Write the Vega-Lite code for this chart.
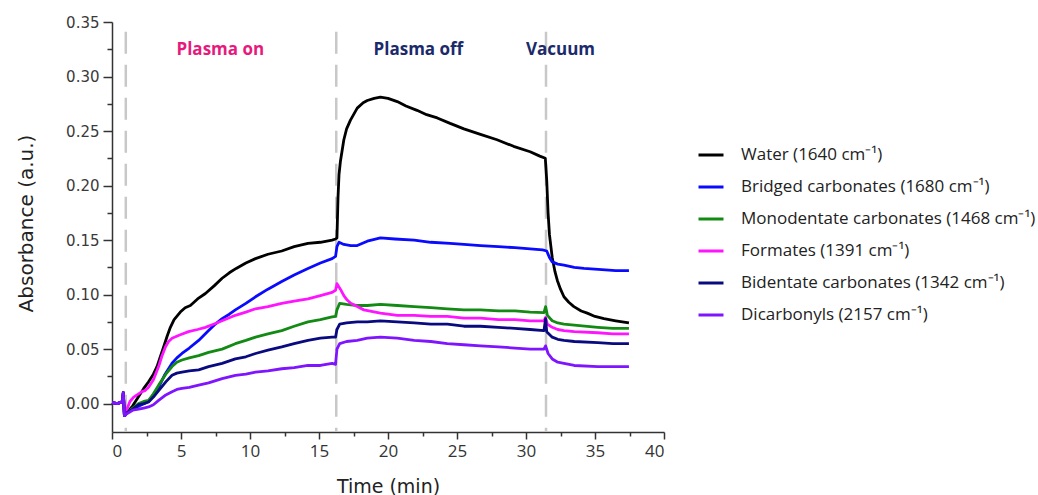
{
  "$schema": "https://vega.github.io/schema/vega-lite/v6.json",
  "width": 552,
  "height": 410,
  "autosize": "none",
  "padding": {"left": 112, "top": 22, "right": 374, "bottom": 63},
  "background": "white",
  "config": {"view": {"stroke": null}, "axis": {"grid": false}},
  "resolve": {"axis": {"x": "independent", "y": "independent"}},
  "layer": [
    {
      "data": {"values": [{"time": 1.0}, {"time": 16.25}, {"time": 31.45}]},
      "mark": {"type": "rule", "color": "#c8c8c8", "strokeWidth": 2.5, "strokeDash": [22, 11]},
      "encoding": {
        "x": {"field": "time", "type": "quantitative", "axis": null, "scale": {"domain": [0, 40], "nice": false}},
        "y": {"datum": 0.341, "type": "quantitative", "axis": null},
        "y2": {"datum": -0.026}
      }
    },
    {
      "data": {"values": [
        {"s":"Water (1640 cm⁻¹)","t":0,"a":0.001},{"s":"Water (1640 cm⁻¹)","t":0.4,"a":0.0},{"s":"Water (1640 cm⁻¹)","t":0.75,"a":0.002},{"s":"Water (1640 cm⁻¹)","t":0.82,"a":0.01},{"s":"Water (1640 cm⁻¹)","t":0.9,"a":-0.011},
        {"s":"Water (1640 cm⁻¹)","t":1.1,"a":-0.008},{"s":"Water (1640 cm⁻¹)","t":1.5,"a":-0.002},{"s":"Water (1640 cm⁻¹)","t":2.0,"a":0.008},{"s":"Water (1640 cm⁻¹)","t":2.3,"a":0.014},{"s":"Water (1640 cm⁻¹)","t":2.65,"a":0.02},
        {"s":"Water (1640 cm⁻¹)","t":3.0,"a":0.027},{"s":"Water (1640 cm⁻¹)","t":3.26,"a":0.034},{"s":"Water (1640 cm⁻¹)","t":3.5,"a":0.043},{"s":"Water (1640 cm⁻¹)","t":3.74,"a":0.052},{"s":"Water (1640 cm⁻¹)","t":4.0,"a":0.062},
        {"s":"Water (1640 cm⁻¹)","t":4.23,"a":0.07},{"s":"Water (1640 cm⁻¹)","t":4.5,"a":0.077},{"s":"Water (1640 cm⁻¹)","t":4.95,"a":0.084},{"s":"Water (1640 cm⁻¹)","t":5.3,"a":0.088},{"s":"Water (1640 cm⁻¹)","t":5.68,"a":0.09},
        {"s":"Water (1640 cm⁻¹)","t":6.2,"a":0.096},{"s":"Water (1640 cm⁻¹)","t":6.77,"a":0.101},{"s":"Water (1640 cm⁻¹)","t":7.4,"a":0.108},{"s":"Water (1640 cm⁻¹)","t":7.98,"a":0.115},{"s":"Water (1640 cm⁻¹)","t":8.5,"a":0.12},
        {"s":"Water (1640 cm⁻¹)","t":9.0,"a":0.124},{"s":"Water (1640 cm⁻¹)","t":9.7,"a":0.129},{"s":"Water (1640 cm⁻¹)","t":10.4,"a":0.133},{"s":"Water (1640 cm⁻¹)","t":11.3,"a":0.137},{"s":"Water (1640 cm⁻¹)","t":12.3,"a":0.14},
        {"s":"Water (1640 cm⁻¹)","t":13.2,"a":0.144},{"s":"Water (1640 cm⁻¹)","t":14.2,"a":0.147},{"s":"Water (1640 cm⁻¹)","t":15.1,"a":0.148},{"s":"Water (1640 cm⁻¹)","t":15.95,"a":0.15},{"s":"Water (1640 cm⁻¹)","t":16.2,"a":0.151},
        {"s":"Water (1640 cm⁻¹)","t":16.3,"a":0.152},{"s":"Water (1640 cm⁻¹)","t":16.38,"a":0.19},{"s":"Water (1640 cm⁻¹)","t":16.45,"a":0.21},{"s":"Water (1640 cm⁻¹)","t":16.55,"a":0.222},{"s":"Water (1640 cm⁻¹)","t":16.8,"a":0.242},
        {"s":"Water (1640 cm⁻¹)","t":17.0,"a":0.252},{"s":"Water (1640 cm⁻¹)","t":17.28,"a":0.26},{"s":"Water (1640 cm⁻¹)","t":17.77,"a":0.271},{"s":"Water (1640 cm⁻¹)","t":18.2,"a":0.276},{"s":"Water (1640 cm⁻¹)","t":18.5,"a":0.278},
        {"s":"Water (1640 cm⁻¹)","t":19.0,"a":0.28},{"s":"Water (1640 cm⁻¹)","t":19.45,"a":0.281},{"s":"Water (1640 cm⁻¹)","t":20.0,"a":0.28},{"s":"Water (1640 cm⁻¹)","t":20.67,"a":0.277},{"s":"Water (1640 cm⁻¹)","t":21.3,"a":0.273},
        {"s":"Water (1640 cm⁻¹)","t":22.1,"a":0.269},{"s":"Water (1640 cm⁻¹)","t":22.8,"a":0.265},{"s":"Water (1640 cm⁻¹)","t":23.57,"a":0.262},{"s":"Water (1640 cm⁻¹)","t":24.5,"a":0.257},{"s":"Water (1640 cm⁻¹)","t":25.5,"a":0.252},
        {"s":"Water (1640 cm⁻¹)","t":26.7,"a":0.247},{"s":"Water (1640 cm⁻¹)","t":27.9,"a":0.242},{"s":"Water (1640 cm⁻¹)","t":29.1,"a":0.236},{"s":"Water (1640 cm⁻¹)","t":30.3,"a":0.231},{"s":"Water (1640 cm⁻¹)","t":31.0,"a":0.227},
        {"s":"Water (1640 cm⁻¹)","t":31.4,"a":0.225},{"s":"Water (1640 cm⁻¹)","t":31.5,"a":0.205},{"s":"Water (1640 cm⁻¹)","t":31.6,"a":0.175},{"s":"Water (1640 cm⁻¹)","t":31.7,"a":0.155},{"s":"Water (1640 cm⁻¹)","t":31.9,"a":0.134},
        {"s":"Water (1640 cm⁻¹)","t":32.1,"a":0.121},{"s":"Water (1640 cm⁻¹)","t":32.27,"a":0.113},{"s":"Water (1640 cm⁻¹)","t":32.5,"a":0.105},{"s":"Water (1640 cm⁻¹)","t":32.75,"a":0.098},{"s":"Water (1640 cm⁻¹)","t":33.1,"a":0.093},
        {"s":"Water (1640 cm⁻¹)","t":33.47,"a":0.089},{"s":"Water (1640 cm⁻¹)","t":34.0,"a":0.085},{"s":"Water (1640 cm⁻¹)","t":34.44,"a":0.083},{"s":"Water (1640 cm⁻¹)","t":35.0,"a":0.08},{"s":"Water (1640 cm⁻¹)","t":35.65,"a":0.078},
        {"s":"Water (1640 cm⁻¹)","t":36.5,"a":0.076},{"s":"Water (1640 cm⁻¹)","t":37.46,"a":0.074},

        {"s":"Bridged carbonates (1680 cm⁻¹)","t":0,"a":0.001},{"s":"Bridged carbonates (1680 cm⁻¹)","t":0.4,"a":0.0},{"s":"Bridged carbonates (1680 cm⁻¹)","t":0.75,"a":0.002},{"s":"Bridged carbonates (1680 cm⁻¹)","t":0.82,"a":0.01},{"s":"Bridged carbonates (1680 cm⁻¹)","t":0.9,"a":-0.011},
        {"s":"Bridged carbonates (1680 cm⁻¹)","t":1.1,"a":-0.008},{"s":"Bridged carbonates (1680 cm⁻¹)","t":1.6,"a":-0.004},{"s":"Bridged carbonates (1680 cm⁻¹)","t":2.0,"a":-0.002},{"s":"Bridged carbonates (1680 cm⁻¹)","t":2.65,"a":0.002},{"s":"Bridged carbonates (1680 cm⁻¹)","t":3.0,"a":0.008},
        {"s":"Bridged carbonates (1680 cm⁻¹)","t":3.38,"a":0.015},{"s":"Bridged carbonates (1680 cm⁻¹)","t":3.8,"a":0.026},{"s":"Bridged carbonates (1680 cm⁻¹)","t":4.35,"a":0.037},{"s":"Bridged carbonates (1680 cm⁻¹)","t":4.7,"a":0.042},{"s":"Bridged carbonates (1680 cm⁻¹)","t":5.07,"a":0.046},
        {"s":"Bridged carbonates (1680 cm⁻¹)","t":5.6,"a":0.051},{"s":"Bridged carbonates (1680 cm⁻¹)","t":6.28,"a":0.058},{"s":"Bridged carbonates (1680 cm⁻¹)","t":7.0,"a":0.067},{"s":"Bridged carbonates (1680 cm⁻¹)","t":7.49,"a":0.073},{"s":"Bridged carbonates (1680 cm⁻¹)","t":7.98,"a":0.078},
        {"s":"Bridged carbonates (1680 cm⁻¹)","t":8.5,"a":0.082},{"s":"Bridged carbonates (1680 cm⁻¹)","t":8.94,"a":0.086},{"s":"Bridged carbonates (1680 cm⁻¹)","t":9.7,"a":0.092},{"s":"Bridged carbonates (1680 cm⁻¹)","t":10.4,"a":0.098},{"s":"Bridged carbonates (1680 cm⁻¹)","t":11.3,"a":0.105},
        {"s":"Bridged carbonates (1680 cm⁻¹)","t":12.3,"a":0.112},{"s":"Bridged carbonates (1680 cm⁻¹)","t":13.2,"a":0.118},{"s":"Bridged carbonates (1680 cm⁻¹)","t":14.2,"a":0.124},{"s":"Bridged carbonates (1680 cm⁻¹)","t":15.1,"a":0.129},{"s":"Bridged carbonates (1680 cm⁻¹)","t":15.95,"a":0.133},
        {"s":"Bridged carbonates (1680 cm⁻¹)","t":16.2,"a":0.135},{"s":"Bridged carbonates (1680 cm⁻¹)","t":16.3,"a":0.144},{"s":"Bridged carbonates (1680 cm⁻¹)","t":16.45,"a":0.148},{"s":"Bridged carbonates (1680 cm⁻¹)","t":16.8,"a":0.146},{"s":"Bridged carbonates (1680 cm⁻¹)","t":17.3,"a":0.145},
        {"s":"Bridged carbonates (1680 cm⁻¹)","t":17.77,"a":0.145},{"s":"Bridged carbonates (1680 cm⁻¹)","t":18.5,"a":0.149},{"s":"Bridged carbonates (1680 cm⁻¹)","t":19.45,"a":0.152},{"s":"Bridged carbonates (1680 cm⁻¹)","t":20.5,"a":0.151},{"s":"Bridged carbonates (1680 cm⁻¹)","t":21.9,"a":0.15},
        {"s":"Bridged carbonates (1680 cm⁻¹)","t":23.1,"a":0.148},{"s":"Bridged carbonates (1680 cm⁻¹)","t":24.5,"a":0.147},{"s":"Bridged carbonates (1680 cm⁻¹)","t":25.5,"a":0.146},{"s":"Bridged carbonates (1680 cm⁻¹)","t":26.7,"a":0.145},{"s":"Bridged carbonates (1680 cm⁻¹)","t":28.0,"a":0.144},
        {"s":"Bridged carbonates (1680 cm⁻¹)","t":29.2,"a":0.143},{"s":"Bridged carbonates (1680 cm⁻¹)","t":30.3,"a":0.142},{"s":"Bridged carbonates (1680 cm⁻¹)","t":31.2,"a":0.141},{"s":"Bridged carbonates (1680 cm⁻¹)","t":31.5,"a":0.14},{"s":"Bridged carbonates (1680 cm⁻¹)","t":31.7,"a":0.134},
        {"s":"Bridged carbonates (1680 cm⁻¹)","t":31.9,"a":0.13},{"s":"Bridged carbonates (1680 cm⁻¹)","t":32.3,"a":0.128},{"s":"Bridged carbonates (1680 cm⁻¹)","t":32.75,"a":0.127},{"s":"Bridged carbonates (1680 cm⁻¹)","t":33.5,"a":0.125},{"s":"Bridged carbonates (1680 cm⁻¹)","t":34.2,"a":0.124},
        {"s":"Bridged carbonates (1680 cm⁻¹)","t":35.5,"a":0.123},{"s":"Bridged carbonates (1680 cm⁻¹)","t":36.5,"a":0.122},{"s":"Bridged carbonates (1680 cm⁻¹)","t":37.46,"a":0.122},

        {"s":"Monodentate carbonates (1468 cm⁻¹)","t":0,"a":0.001},{"s":"Monodentate carbonates (1468 cm⁻¹)","t":0.4,"a":0.0},{"s":"Monodentate carbonates (1468 cm⁻¹)","t":0.75,"a":0.002},{"s":"Monodentate carbonates (1468 cm⁻¹)","t":0.82,"a":0.01},{"s":"Monodentate carbonates (1468 cm⁻¹)","t":0.9,"a":-0.011},
        {"s":"Monodentate carbonates (1468 cm⁻¹)","t":1.1,"a":-0.008},{"s":"Monodentate carbonates (1468 cm⁻¹)","t":1.5,"a":-0.004},{"s":"Monodentate carbonates (1468 cm⁻¹)","t":1.93,"a":0.0},{"s":"Monodentate carbonates (1468 cm⁻¹)","t":2.3,"a":0.002},{"s":"Monodentate carbonates (1468 cm⁻¹)","t":2.65,"a":0.003},
        {"s":"Monodentate carbonates (1468 cm⁻¹)","t":3.0,"a":0.009},{"s":"Monodentate carbonates (1468 cm⁻¹)","t":3.38,"a":0.017},{"s":"Monodentate carbonates (1468 cm⁻¹)","t":3.9,"a":0.027},{"s":"Monodentate carbonates (1468 cm⁻¹)","t":4.35,"a":0.034},{"s":"Monodentate carbonates (1468 cm⁻¹)","t":4.7,"a":0.038},
        {"s":"Monodentate carbonates (1468 cm⁻¹)","t":5.07,"a":0.04},{"s":"Monodentate carbonates (1468 cm⁻¹)","t":5.6,"a":0.042},{"s":"Monodentate carbonates (1468 cm⁻¹)","t":6.28,"a":0.044},{"s":"Monodentate carbonates (1468 cm⁻¹)","t":7.0,"a":0.047},{"s":"Monodentate carbonates (1468 cm⁻¹)","t":7.98,"a":0.05},
        {"s":"Monodentate carbonates (1468 cm⁻¹)","t":8.94,"a":0.055},{"s":"Monodentate carbonates (1468 cm⁻¹)","t":9.7,"a":0.058},{"s":"Monodentate carbonates (1468 cm⁻¹)","t":10.4,"a":0.061},{"s":"Monodentate carbonates (1468 cm⁻¹)","t":11.3,"a":0.064},{"s":"Monodentate carbonates (1468 cm⁻¹)","t":12.3,"a":0.067},
        {"s":"Monodentate carbonates (1468 cm⁻¹)","t":13.2,"a":0.071},{"s":"Monodentate carbonates (1468 cm⁻¹)","t":14.2,"a":0.075},{"s":"Monodentate carbonates (1468 cm⁻¹)","t":15.1,"a":0.077},{"s":"Monodentate carbonates (1468 cm⁻¹)","t":15.95,"a":0.0795},{"s":"Monodentate carbonates (1468 cm⁻¹)","t":16.2,"a":0.08},
        {"s":"Monodentate carbonates (1468 cm⁻¹)","t":16.3,"a":0.086},{"s":"Monodentate carbonates (1468 cm⁻¹)","t":16.5,"a":0.092},{"s":"Monodentate carbonates (1468 cm⁻¹)","t":17.0,"a":0.091},{"s":"Monodentate carbonates (1468 cm⁻¹)","t":17.77,"a":0.09},{"s":"Monodentate carbonates (1468 cm⁻¹)","t":18.5,"a":0.09},
        {"s":"Monodentate carbonates (1468 cm⁻¹)","t":19.45,"a":0.091},{"s":"Monodentate carbonates (1468 cm⁻¹)","t":20.67,"a":0.09},{"s":"Monodentate carbonates (1468 cm⁻¹)","t":21.9,"a":0.089},{"s":"Monodentate carbonates (1468 cm⁻¹)","t":23.1,"a":0.088},{"s":"Monodentate carbonates (1468 cm⁻¹)","t":24.3,"a":0.087},
        {"s":"Monodentate carbonates (1468 cm⁻¹)","t":25.5,"a":0.086},{"s":"Monodentate carbonates (1468 cm⁻¹)","t":26.7,"a":0.086},{"s":"Monodentate carbonates (1468 cm⁻¹)","t":28.0,"a":0.085},{"s":"Monodentate carbonates (1468 cm⁻¹)","t":29.2,"a":0.085},{"s":"Monodentate carbonates (1468 cm⁻¹)","t":30.3,"a":0.084},
        {"s":"Monodentate carbonates (1468 cm⁻¹)","t":31.3,"a":0.0835},{"s":"Monodentate carbonates (1468 cm⁻¹)","t":31.42,"a":0.089},{"s":"Monodentate carbonates (1468 cm⁻¹)","t":31.55,"a":0.081},{"s":"Monodentate carbonates (1468 cm⁻¹)","t":31.9,"a":0.076},{"s":"Monodentate carbonates (1468 cm⁻¹)","t":32.3,"a":0.074},
        {"s":"Monodentate carbonates (1468 cm⁻¹)","t":32.75,"a":0.073},{"s":"Monodentate carbonates (1468 cm⁻¹)","t":33.5,"a":0.072},{"s":"Monodentate carbonates (1468 cm⁻¹)","t":35.2,"a":0.07},{"s":"Monodentate carbonates (1468 cm⁻¹)","t":36.3,"a":0.069},{"s":"Monodentate carbonates (1468 cm⁻¹)","t":37.46,"a":0.069},

        {"s":"Formates (1391 cm⁻¹)","t":0,"a":0.001},{"s":"Formates (1391 cm⁻¹)","t":0.4,"a":0.0},{"s":"Formates (1391 cm⁻¹)","t":0.75,"a":0.002},{"s":"Formates (1391 cm⁻¹)","t":0.82,"a":0.01},{"s":"Formates (1391 cm⁻¹)","t":0.9,"a":-0.011},
        {"s":"Formates (1391 cm⁻¹)","t":1.05,"a":-0.006},{"s":"Formates (1391 cm⁻¹)","t":1.3,"a":0.002},{"s":"Formates (1391 cm⁻¹)","t":1.57,"a":0.006},{"s":"Formates (1391 cm⁻¹)","t":2.17,"a":0.011},{"s":"Formates (1391 cm⁻¹)","t":2.4,"a":0.012},
        {"s":"Formates (1391 cm⁻¹)","t":2.65,"a":0.015},{"s":"Formates (1391 cm⁻¹)","t":3.0,"a":0.022},{"s":"Formates (1391 cm⁻¹)","t":3.38,"a":0.034},{"s":"Formates (1391 cm⁻¹)","t":3.6,"a":0.043},{"s":"Formates (1391 cm⁻¹)","t":3.87,"a":0.052},
        {"s":"Formates (1391 cm⁻¹)","t":4.1,"a":0.057},{"s":"Formates (1391 cm⁻¹)","t":4.35,"a":0.06},{"s":"Formates (1391 cm⁻¹)","t":4.9,"a":0.063},{"s":"Formates (1391 cm⁻¹)","t":5.55,"a":0.066},{"s":"Formates (1391 cm⁻¹)","t":6.2,"a":0.068},
        {"s":"Formates (1391 cm⁻¹)","t":6.77,"a":0.07},{"s":"Formates (1391 cm⁻¹)","t":7.4,"a":0.073},{"s":"Formates (1391 cm⁻¹)","t":7.98,"a":0.076},{"s":"Formates (1391 cm⁻¹)","t":8.94,"a":0.081},{"s":"Formates (1391 cm⁻¹)","t":9.7,"a":0.084},
        {"s":"Formates (1391 cm⁻¹)","t":10.4,"a":0.087},{"s":"Formates (1391 cm⁻¹)","t":11.3,"a":0.089},{"s":"Formates (1391 cm⁻¹)","t":12.3,"a":0.092},{"s":"Formates (1391 cm⁻¹)","t":13.2,"a":0.094},{"s":"Formates (1391 cm⁻¹)","t":14.2,"a":0.096},
        {"s":"Formates (1391 cm⁻¹)","t":15.1,"a":0.099},{"s":"Formates (1391 cm⁻¹)","t":15.95,"a":0.102},{"s":"Formates (1391 cm⁻¹)","t":16.2,"a":0.104},{"s":"Formates (1391 cm⁻¹)","t":16.3,"a":0.11},{"s":"Formates (1391 cm⁻¹)","t":16.55,"a":0.105},
        {"s":"Formates (1391 cm⁻¹)","t":16.8,"a":0.099},{"s":"Formates (1391 cm⁻¹)","t":17.04,"a":0.095},{"s":"Formates (1391 cm⁻¹)","t":17.3,"a":0.092},{"s":"Formates (1391 cm⁻¹)","t":17.77,"a":0.089},{"s":"Formates (1391 cm⁻¹)","t":18.25,"a":0.086},
        {"s":"Formates (1391 cm⁻¹)","t":19.45,"a":0.083},{"s":"Formates (1391 cm⁻¹)","t":20.67,"a":0.081},{"s":"Formates (1391 cm⁻¹)","t":21.9,"a":0.081},{"s":"Formates (1391 cm⁻¹)","t":23.1,"a":0.08},{"s":"Formates (1391 cm⁻¹)","t":24.3,"a":0.08},
        {"s":"Formates (1391 cm⁻¹)","t":25.5,"a":0.0785},{"s":"Formates (1391 cm⁻¹)","t":26.7,"a":0.0785},{"s":"Formates (1391 cm⁻¹)","t":28.0,"a":0.077},{"s":"Formates (1391 cm⁻¹)","t":29.2,"a":0.077},{"s":"Formates (1391 cm⁻¹)","t":30.3,"a":0.076},
        {"s":"Formates (1391 cm⁻¹)","t":31.3,"a":0.076},{"s":"Formates (1391 cm⁻¹)","t":31.42,"a":0.079},{"s":"Formates (1391 cm⁻¹)","t":31.55,"a":0.073},{"s":"Formates (1391 cm⁻¹)","t":31.9,"a":0.07},{"s":"Formates (1391 cm⁻¹)","t":32.3,"a":0.068},
        {"s":"Formates (1391 cm⁻¹)","t":32.75,"a":0.067},{"s":"Formates (1391 cm⁻¹)","t":33.5,"a":0.066},{"s":"Formates (1391 cm⁻¹)","t":35.2,"a":0.065},{"s":"Formates (1391 cm⁻¹)","t":36.3,"a":0.064},{"s":"Formates (1391 cm⁻¹)","t":37.46,"a":0.064},

        {"s":"Bidentate carbonates (1342 cm⁻¹)","t":0,"a":0.001},{"s":"Bidentate carbonates (1342 cm⁻¹)","t":0.4,"a":0.0},{"s":"Bidentate carbonates (1342 cm⁻¹)","t":0.75,"a":0.002},{"s":"Bidentate carbonates (1342 cm⁻¹)","t":0.82,"a":0.01},{"s":"Bidentate carbonates (1342 cm⁻¹)","t":0.9,"a":-0.011},
        {"s":"Bidentate carbonates (1342 cm⁻¹)","t":1.1,"a":-0.008},{"s":"Bidentate carbonates (1342 cm⁻¹)","t":1.5,"a":-0.005},{"s":"Bidentate carbonates (1342 cm⁻¹)","t":1.93,"a":-0.001},{"s":"Bidentate carbonates (1342 cm⁻¹)","t":2.3,"a":0.0},{"s":"Bidentate carbonates (1342 cm⁻¹)","t":2.65,"a":0.0015},
        {"s":"Bidentate carbonates (1342 cm⁻¹)","t":3.0,"a":0.006},{"s":"Bidentate carbonates (1342 cm⁻¹)","t":3.38,"a":0.012},{"s":"Bidentate carbonates (1342 cm⁻¹)","t":3.9,"a":0.02},{"s":"Bidentate carbonates (1342 cm⁻¹)","t":4.35,"a":0.026},{"s":"Bidentate carbonates (1342 cm⁻¹)","t":4.7,"a":0.028},
        {"s":"Bidentate carbonates (1342 cm⁻¹)","t":5.07,"a":0.029},{"s":"Bidentate carbonates (1342 cm⁻¹)","t":5.6,"a":0.03},{"s":"Bidentate carbonates (1342 cm⁻¹)","t":6.28,"a":0.031},{"s":"Bidentate carbonates (1342 cm⁻¹)","t":7.0,"a":0.034},{"s":"Bidentate carbonates (1342 cm⁻¹)","t":7.98,"a":0.037},
        {"s":"Bidentate carbonates (1342 cm⁻¹)","t":8.94,"a":0.041},{"s":"Bidentate carbonates (1342 cm⁻¹)","t":9.7,"a":0.043},{"s":"Bidentate carbonates (1342 cm⁻¹)","t":10.4,"a":0.046},{"s":"Bidentate carbonates (1342 cm⁻¹)","t":11.3,"a":0.049},{"s":"Bidentate carbonates (1342 cm⁻¹)","t":12.3,"a":0.052},
        {"s":"Bidentate carbonates (1342 cm⁻¹)","t":13.2,"a":0.055},{"s":"Bidentate carbonates (1342 cm⁻¹)","t":14.2,"a":0.058},{"s":"Bidentate carbonates (1342 cm⁻¹)","t":15.1,"a":0.06},{"s":"Bidentate carbonates (1342 cm⁻¹)","t":15.95,"a":0.061},{"s":"Bidentate carbonates (1342 cm⁻¹)","t":16.2,"a":0.061},
        {"s":"Bidentate carbonates (1342 cm⁻¹)","t":16.3,"a":0.068},{"s":"Bidentate carbonates (1342 cm⁻¹)","t":16.5,"a":0.073},{"s":"Bidentate carbonates (1342 cm⁻¹)","t":17.0,"a":0.074},{"s":"Bidentate carbonates (1342 cm⁻¹)","t":17.77,"a":0.075},{"s":"Bidentate carbonates (1342 cm⁻¹)","t":18.5,"a":0.075},
        {"s":"Bidentate carbonates (1342 cm⁻¹)","t":19.45,"a":0.076},{"s":"Bidentate carbonates (1342 cm⁻¹)","t":20.67,"a":0.075},{"s":"Bidentate carbonates (1342 cm⁻¹)","t":21.9,"a":0.074},{"s":"Bidentate carbonates (1342 cm⁻¹)","t":23.1,"a":0.073},{"s":"Bidentate carbonates (1342 cm⁻¹)","t":24.3,"a":0.073},
        {"s":"Bidentate carbonates (1342 cm⁻¹)","t":25.5,"a":0.071},{"s":"Bidentate carbonates (1342 cm⁻¹)","t":26.7,"a":0.071},{"s":"Bidentate carbonates (1342 cm⁻¹)","t":28.0,"a":0.07},{"s":"Bidentate carbonates (1342 cm⁻¹)","t":29.2,"a":0.069},{"s":"Bidentate carbonates (1342 cm⁻¹)","t":30.3,"a":0.068},
        {"s":"Bidentate carbonates (1342 cm⁻¹)","t":31.3,"a":0.067},{"s":"Bidentate carbonates (1342 cm⁻¹)","t":31.42,"a":0.078},{"s":"Bidentate carbonates (1342 cm⁻¹)","t":31.5,"a":0.066},{"s":"Bidentate carbonates (1342 cm⁻¹)","t":31.9,"a":0.061},{"s":"Bidentate carbonates (1342 cm⁻¹)","t":32.3,"a":0.059},
        {"s":"Bidentate carbonates (1342 cm⁻¹)","t":32.75,"a":0.058},{"s":"Bidentate carbonates (1342 cm⁻¹)","t":33.5,"a":0.057},{"s":"Bidentate carbonates (1342 cm⁻¹)","t":35.2,"a":0.056},{"s":"Bidentate carbonates (1342 cm⁻¹)","t":36.3,"a":0.055},{"s":"Bidentate carbonates (1342 cm⁻¹)","t":37.46,"a":0.055},

        {"s":"Dicarbonyls (2157 cm⁻¹)","t":0,"a":0.001},{"s":"Dicarbonyls (2157 cm⁻¹)","t":0.4,"a":0.0},{"s":"Dicarbonyls (2157 cm⁻¹)","t":0.75,"a":0.002},{"s":"Dicarbonyls (2157 cm⁻¹)","t":0.82,"a":0.01},{"s":"Dicarbonyls (2157 cm⁻¹)","t":0.9,"a":-0.011},
        {"s":"Dicarbonyls (2157 cm⁻¹)","t":1.1,"a":-0.009},{"s":"Dicarbonyls (2157 cm⁻¹)","t":1.5,"a":-0.006},{"s":"Dicarbonyls (2157 cm⁻¹)","t":1.93,"a":-0.005},{"s":"Dicarbonyls (2157 cm⁻¹)","t":2.3,"a":-0.004},{"s":"Dicarbonyls (2157 cm⁻¹)","t":2.65,"a":-0.003},
        {"s":"Dicarbonyls (2157 cm⁻¹)","t":3.0,"a":-0.001},{"s":"Dicarbonyls (2157 cm⁻¹)","t":3.38,"a":0.003},{"s":"Dicarbonyls (2157 cm⁻¹)","t":3.9,"a":0.008},{"s":"Dicarbonyls (2157 cm⁻¹)","t":4.35,"a":0.011},{"s":"Dicarbonyls (2157 cm⁻¹)","t":4.7,"a":0.013},
        {"s":"Dicarbonyls (2157 cm⁻¹)","t":5.07,"a":0.014},{"s":"Dicarbonyls (2157 cm⁻¹)","t":5.6,"a":0.015},{"s":"Dicarbonyls (2157 cm⁻¹)","t":6.28,"a":0.017},{"s":"Dicarbonyls (2157 cm⁻¹)","t":7.0,"a":0.019},{"s":"Dicarbonyls (2157 cm⁻¹)","t":7.98,"a":0.023},
        {"s":"Dicarbonyls (2157 cm⁻¹)","t":8.94,"a":0.026},{"s":"Dicarbonyls (2157 cm⁻¹)","t":9.7,"a":0.027},{"s":"Dicarbonyls (2157 cm⁻¹)","t":10.4,"a":0.029},{"s":"Dicarbonyls (2157 cm⁻¹)","t":11.3,"a":0.03},{"s":"Dicarbonyls (2157 cm⁻¹)","t":12.3,"a":0.032},
        {"s":"Dicarbonyls (2157 cm⁻¹)","t":13.2,"a":0.033},{"s":"Dicarbonyls (2157 cm⁻¹)","t":14.2,"a":0.035},{"s":"Dicarbonyls (2157 cm⁻¹)","t":15.1,"a":0.035},{"s":"Dicarbonyls (2157 cm⁻¹)","t":15.95,"a":0.037},{"s":"Dicarbonyls (2157 cm⁻¹)","t":16.2,"a":0.036},
        {"s":"Dicarbonyls (2157 cm⁻¹)","t":16.3,"a":0.05},{"s":"Dicarbonyls (2157 cm⁻¹)","t":16.5,"a":0.055},{"s":"Dicarbonyls (2157 cm⁻¹)","t":17.0,"a":0.057},{"s":"Dicarbonyls (2157 cm⁻¹)","t":17.77,"a":0.058},{"s":"Dicarbonyls (2157 cm⁻¹)","t":18.5,"a":0.06},
        {"s":"Dicarbonyls (2157 cm⁻¹)","t":19.45,"a":0.061},{"s":"Dicarbonyls (2157 cm⁻¹)","t":20.67,"a":0.06},{"s":"Dicarbonyls (2157 cm⁻¹)","t":21.9,"a":0.058},{"s":"Dicarbonyls (2157 cm⁻¹)","t":23.1,"a":0.057},{"s":"Dicarbonyls (2157 cm⁻¹)","t":24.3,"a":0.055},
        {"s":"Dicarbonyls (2157 cm⁻¹)","t":25.5,"a":0.054},{"s":"Dicarbonyls (2157 cm⁻¹)","t":26.7,"a":0.053},{"s":"Dicarbonyls (2157 cm⁻¹)","t":28.0,"a":0.052},{"s":"Dicarbonyls (2157 cm⁻¹)","t":29.2,"a":0.051},{"s":"Dicarbonyls (2157 cm⁻¹)","t":30.3,"a":0.05},
        {"s":"Dicarbonyls (2157 cm⁻¹)","t":31.3,"a":0.05},{"s":"Dicarbonyls (2157 cm⁻¹)","t":31.42,"a":0.053},{"s":"Dicarbonyls (2157 cm⁻¹)","t":31.6,"a":0.046},{"s":"Dicarbonyls (2157 cm⁻¹)","t":31.9,"a":0.041},{"s":"Dicarbonyls (2157 cm⁻¹)","t":32.3,"a":0.038},
        {"s":"Dicarbonyls (2157 cm⁻¹)","t":32.75,"a":0.037},{"s":"Dicarbonyls (2157 cm⁻¹)","t":33.5,"a":0.035},{"s":"Dicarbonyls (2157 cm⁻¹)","t":35.2,"a":0.034},{"s":"Dicarbonyls (2157 cm⁻¹)","t":36.3,"a":0.034},{"s":"Dicarbonyls (2157 cm⁻¹)","t":37.46,"a":0.034}
      ]},
      "mark": {"type": "line", "strokeWidth": 2.8, "strokeJoin": "round"},
      "encoding": {
        "x": {
          "field": "t", "type": "quantitative", "title": "Time (min)",
          "scale": {"domain": [0, 40], "nice": false},
          "axis": {
            "orient": "bottom", "values": [0, 5, 10, 15, 20, 25, 30, 35, 40], "format": "d",
            "labelFont": "Open Sans", "labelFontSize": 17, "labelColor": "#333333", "labelPadding": 4,
            "tickSize": 7, "tickWidth": 1.5, "tickColor": "#333333", "domainColor": "#333333", "domainWidth": 1.5,
            "titleFont": "DejaVu Sans", "titleFontSize": 19, "titleFontWeight": "normal", "titleColor": "#222222",
            "titleX": 276, "titleY": 60, "titleBaseline": "alphabetic", "titleAlign": "center"
          }
        },
        "y": {
          "field": "a", "type": "quantitative", "title": "Absorbance (a.u.)",
          "scale": {"domain": [-0.026, 0.35], "nice": false, "zero": false},
          "axis": {
            "orient": "left", "values": [0, 0.05, 0.1, 0.15, 0.2, 0.25, 0.3, 0.35], "format": ".2f",
            "labelFont": "DejaVu Sans", "labelFontSize": 15, "labelColor": "#3a3a3a", "labelPadding": 4,
            "tickSize": 9, "tickWidth": 1.5, "tickColor": "#333333", "domainColor": "#333333", "domainWidth": 1.5,
            "titleFont": "DejaVu Sans", "titleFontSize": 20, "titleFontWeight": "normal", "titleColor": "#222222",
            "titleAngle": 270, "titleX": -80, "titleY": 201, "titleBaseline": "alphabetic", "titleAlign": "center"
          }
        },
        "color": {
          "field": "s", "type": "nominal",
          "scale": {
            "domain": ["Water (1640 cm⁻¹)", "Bridged carbonates (1680 cm⁻¹)", "Monodentate carbonates (1468 cm⁻¹)", "Formates (1391 cm⁻¹)", "Bidentate carbonates (1342 cm⁻¹)", "Dicarbonyls (2157 cm⁻¹)"],
            "range": ["#000000", "#0a0aff", "#138a13", "#ff14ff", "#0a0a80", "#7f14ff"]
          },
          "sort": null,
          "legend": {
            "title": null, "orient": "none", "legendX": 585, "legendY": 119, "padding": 0,
            "symbolType": "stroke", "symbolSize": 625, "symbolStrokeWidth": 3,
            "labelFont": "Open Sans", "labelFontSize": 17, "labelColor": "#222222", "labelOffset": 16,
            "rowPadding": 10, "labelLimit": 400
          }
        },
        "order": {"field": "t", "type": "quantitative"}
      }
    },
    {
      "data": {"values": [{"t": 0, "a": 0}]},
      "mark": {"type": "point", "opacity": 0},
      "encoding": {
        "x": {
          "field": "t", "type": "quantitative",
          "axis": {"orient": "bottom", "values": [2.5, 7.5, 12.5, 17.5, 22.5, 27.5, 32.5, 37.5], "labels": false, "domain": false, "tickSize": 4, "tickWidth": 1.5, "tickColor": "#333333", "title": null}
        },
        "y": {
          "field": "a", "type": "quantitative",
          "axis": {"orient": "left", "values": [0.025, 0.075, 0.125, 0.175, 0.225, 0.275, 0.325], "labels": false, "domain": false, "tickSize": 5, "tickWidth": 1.5, "tickColor": "#333333", "title": null}
        }
      }
    },
    {
      "data": {"values": [{"label": "Plasma on", "t": 7.85, "a": 0.32}]},
      "mark": {"type": "text", "font": "Open Sans", "fontSize": 17, "fontWeight": "bold", "color": "#e8197d", "align": "center", "baseline": "alphabetic"},
      "encoding": {
        "x": {"field": "t", "type": "quantitative", "axis": null},
        "y": {"field": "a", "type": "quantitative", "axis": null},
        "text": {"field": "label"}
      }
    },
    {
      "data": {"values": [{"label": "Plasma off", "t": 22.2, "a": 0.32}, {"label": "Vacuum", "t": 32.5, "a": 0.32}]},
      "mark": {"type": "text", "font": "Open Sans", "fontSize": 17, "fontWeight": "bold", "color": "#1b2a6b", "align": "center", "baseline": "alphabetic"},
      "encoding": {
        "x": {"field": "t", "type": "quantitative", "axis": null},
        "y": {"field": "a", "type": "quantitative", "axis": null},
        "text": {"field": "label"}
      }
    }
  ]
}
